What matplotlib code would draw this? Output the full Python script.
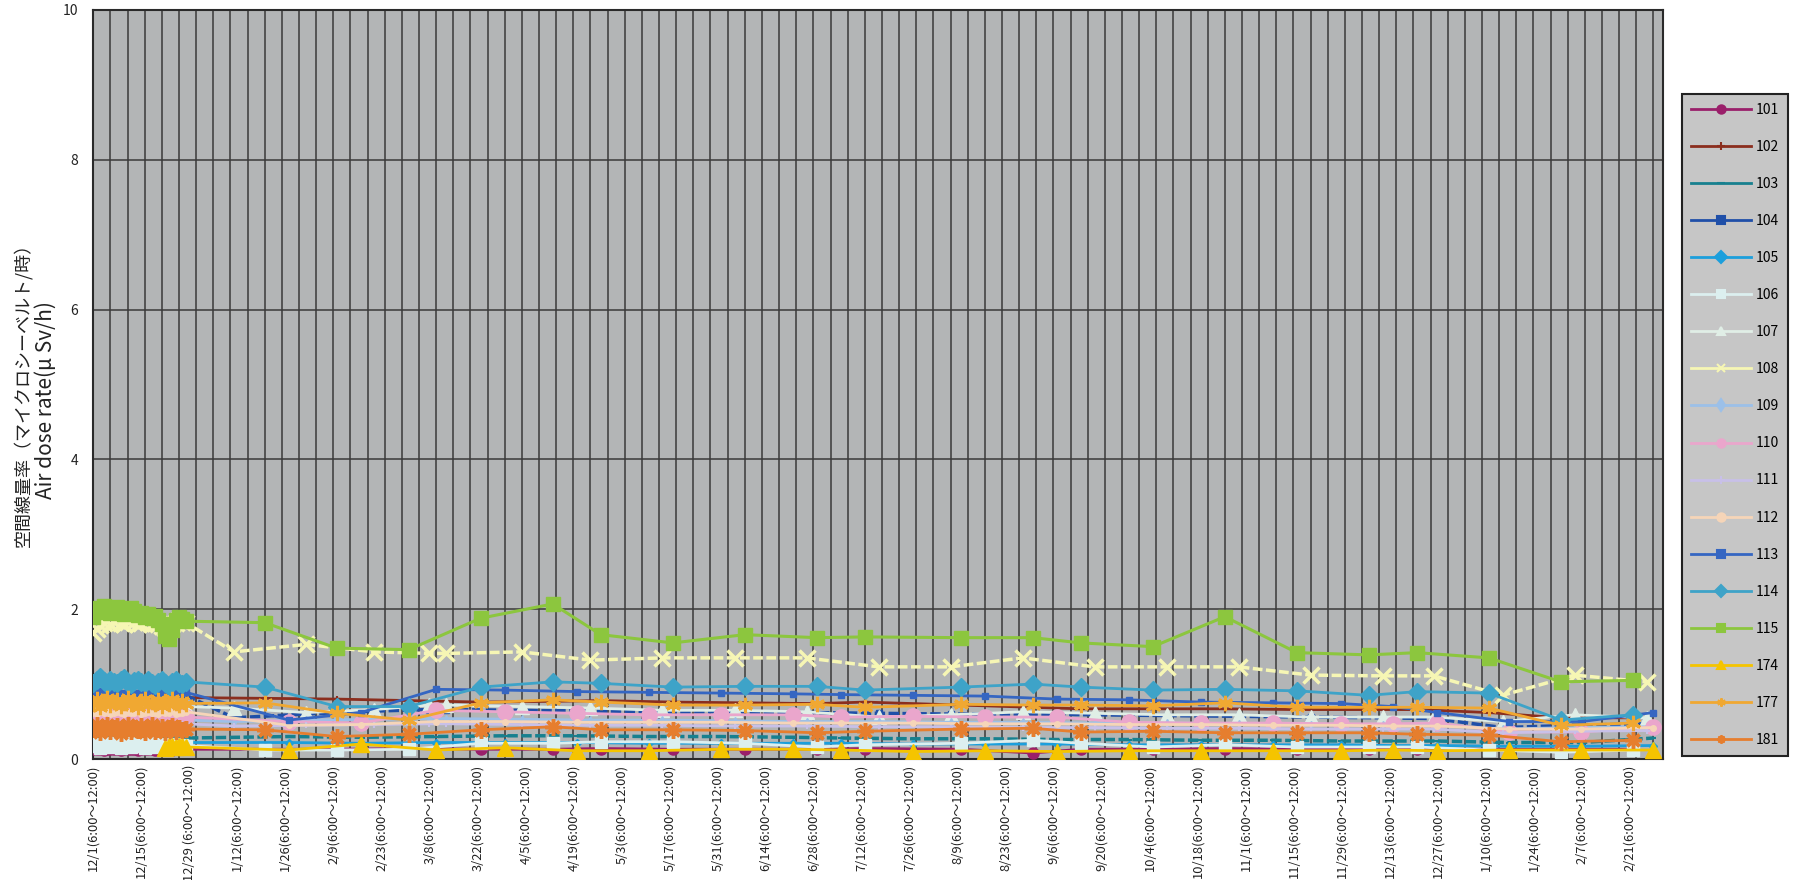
import numpy as np
import matplotlib
matplotlib.use("Agg")
import matplotlib.pyplot as plt
from matplotlib.lines import Line2D

plt.rcParams['font.family'] = ['Noto Sans CJK JP', 'DejaVu Sans']

# x values are days counted from 12/1 (2011)
tick_days = np.arange(0, 449, 14)
tick_dates = ["12/1", "12/15", "12/29 ", "1/12", "1/26", "2/9", "2/23", "3/8", "3/22",
              "4/5", "4/19", "5/3", "5/17", "5/31", "6/14", "6/28", "7/12", "7/26",
              "8/9", "8/23", "9/6", "9/20", "10/4", "10/18", "11/1", "11/15", "11/29",
              "12/13", "12/27", "1/10", "1/24", "2/7", "2/21"]

# daily readings in December
dense_days = list(range(28))
late_dense_days = list(range(21, 28))

# later readings, three survey rounds
days_a = [50, 71, 92, 113, 134, 148, 169, 190, 211, 225, 253, 274, 288, 309, 330, 351, 372, 386, 407, 428, 449]
days_b = [41, 62, 82, 98, 103, 125, 145, 166, 187, 208, 229, 250, 271, 292, 313, 334, 355, 376, 391, 411, 432, 453]
days_c = [57, 78, 100, 120, 141, 162, 183, 204, 218, 239, 260, 281, 302, 323, 344, 364, 379, 392, 413, 434, 455]

d101 = [0.13, 0.14, 0.13, 0.12, 0.13, 0.14, 0.13, 0.13, 0.12, 0.13, 0.14, 0.13, 0.13, 0.12, 0.13, 0.14, 0.13, 0.13, 0.12, 0.13, 0.14, 0.13, 0.13, 0.12, 0.13, 0.14, 0.13, 0.13]
d102 = [0.82, 0.83, 0.81, 0.82, 0.83, 0.82, 0.81, 0.82, 0.83, 0.82, 0.81, 0.82, 0.82, 0.83, 0.81, 0.82, 0.83, 0.82, 0.81, 0.82, 0.82, 0.83, 0.81, 0.82, 0.82, 0.81, 0.82, 0.82]
d103 = [0.28, 0.29, 0.27, 0.28, 0.29, 0.28, 0.27, 0.28, 0.29, 0.28, 0.27, 0.28, 0.28, 0.29, 0.27, 0.28, 0.29, 0.28, 0.27, 0.28, 0.28, 0.29, 0.27, 0.28, 0.28, 0.27, 0.28, 0.28]
d104 = [0.84, 0.85, 0.83, 0.86, 0.84, 0.85, 0.86, 0.84, 0.83, 0.85, 0.86, 0.84, 0.85, 0.83, 0.84, 0.86, 0.85, 0.84, 0.83, 0.85, 0.84, 0.86, 0.85, 0.84, 0.83, 0.85, 0.84, 0.85]
d105 = [0.22, 0.23, 0.21, 0.22, 0.23, 0.22, 0.21, 0.22, 0.23, 0.22, 0.21, 0.22, 0.22, 0.23, 0.21, 0.22, 0.23, 0.22, 0.21, 0.22, 0.22, 0.23, 0.21, 0.22, 0.22, 0.21, 0.22, 0.22]
d106 = [0.17, 0.20, 0.15, 0.19, 0.21, 0.16, 0.18, 0.20, 0.15, 0.18, 0.21, 0.16, 0.19, 0.17, 0.20, 0.15, 0.18, 0.21, 0.16, 0.19, 0.17, 0.20, 0.15, 0.18, 0.20, 0.16, 0.19, 0.18]
d107 = [0.70, 0.71, 0.69, 0.70, 0.72, 0.70, 0.69, 0.71, 0.70, 0.72, 0.70, 0.69, 0.71, 0.70, 0.70, 0.72, 0.69, 0.70, 0.71, 0.70, 0.69, 0.71, 0.70, 0.72, 0.70, 0.69, 0.71, 0.70]
d108 = [1.68, 1.74, 1.79, 1.82, 1.84, 1.80, 1.83, 1.85, 1.82, 1.80, 1.84, 1.86, 1.83, 1.80, 1.82, 1.85, 1.83, 1.80, 1.82, 1.80, 1.78, 1.75, 1.78, 1.80, 1.82, 1.85, 1.83, 1.82]
d109 = [0.52, 0.53, 0.51, 0.52, 0.54, 0.52, 0.51, 0.53, 0.52, 0.52, 0.54, 0.51, 0.52, 0.53, 0.52, 0.51, 0.53, 0.52, 0.52, 0.54, 0.51, 0.52, 0.53, 0.52, 0.51, 0.53, 0.52, 0.52]
d110 = [0.56, 0.58, 0.55, 0.57, 0.59, 0.56, 0.55, 0.58, 0.57, 0.56, 0.59, 0.55, 0.57, 0.58, 0.56, 0.55, 0.58, 0.57, 0.56, 0.59, 0.55, 0.57, 0.58, 0.56, 0.55, 0.57, 0.58, 0.56]
d111 = [0.47, 0.48, 0.46, 0.47, 0.49, 0.47, 0.46, 0.48, 0.47, 0.47, 0.49, 0.46, 0.47, 0.48, 0.47, 0.46, 0.48, 0.47, 0.47, 0.49, 0.46, 0.47, 0.48, 0.47, 0.46, 0.48, 0.47, 0.47]
d112 = [0.62, 0.60, 0.63, 0.61, 0.64, 0.60, 0.62, 0.63, 0.61, 0.60, 0.63, 0.62, 0.61, 0.64, 0.60, 0.62, 0.63, 0.61, 0.62, 0.60, 0.63, 0.61, 0.62, 0.64, 0.60, 0.62, 0.61, 0.63]
d113 = [0.86, 0.89, 0.91, 0.88, 0.90, 0.87, 0.89, 0.91, 0.86, 0.88, 0.90, 0.89, 0.87, 0.88, 0.91, 0.88, 0.86, 0.89, 0.90, 0.87, 0.88, 0.90, 0.86, 0.88, 0.89, 0.87, 0.88, 0.89]
d114 = [1.02, 1.06, 1.09, 1.04, 1.00, 1.06, 1.03, 1.01, 1.05, 1.08, 1.02, 1.00, 1.04, 1.06, 1.03, 1.01, 1.05, 1.02, 0.99, 1.03, 1.06, 1.02, 0.98, 1.03, 1.05, 1.02, 1.00, 1.03]
d115 = [1.90, 1.96, 2.02, 2.04, 1.98, 1.95, 2.00, 2.03, 1.97, 1.93, 1.96, 2.01, 1.98, 1.92, 1.95, 1.90, 1.93, 1.88, 1.91, 1.86, 1.80, 1.64, 1.60, 1.72, 1.85, 1.90, 1.87, 1.84]
d174 = [0.15, 0.17, 0.18, 0.16, 0.17, 0.18, 0.16]
d177 = [0.74, 0.80, 0.70, 0.77, 0.82, 0.72, 0.76, 0.79, 0.71, 0.75, 0.81, 0.73, 0.77, 0.70, 0.78, 0.80, 0.72, 0.76, 0.74, 0.79, 0.71, 0.77, 0.73, 0.80, 0.75, 0.72, 0.78, 0.74]
d181 = [0.40, 0.45, 0.36, 0.42, 0.46, 0.38, 0.41, 0.44, 0.35, 0.40, 0.45, 0.37, 0.42, 0.39, 0.44, 0.36, 0.41, 0.45, 0.38, 0.40, 0.43, 0.36, 0.42, 0.44, 0.38, 0.41, 0.39, 0.40]

v101 = [0.13, 0.13, 0.14, 0.13, 0.13, 0.14, 0.13, 0.13, 0.13, 0.14, 0.13, 0.08, 0.13, 0.13, 0.14, 0.13, 0.13, 0.13, 0.13, 0.13, 0.13]
v102 = [0.81, 0.80, 0.78, 0.76, 0.77, 0.78, 0.76, 0.75, 0.74, 0.76, 0.72, 0.69, 0.67, 0.67, 0.67, 0.66, 0.66, 0.66, 0.62, 0.55, 0.55]
v103 = [0.30, 0.29, 0.30, 0.31, 0.31, 0.30, 0.30, 0.29, 0.28, 0.27, 0.27, 0.26, 0.26, 0.25, 0.25, 0.24, 0.24, 0.24, 0.22, 0.22, 0.28]
v104 = [0.55, 0.60, 0.64, 0.66, 0.66, 0.65, 0.64, 0.63, 0.63, 0.62, 0.61, 0.60, 0.60, 0.59, 0.58, 0.57, 0.56, 0.55, 0.54, 0.42, 0.45, 0.47]
v105 = [0.22, 0.21, 0.22, 0.22, 0.22, 0.21, 0.21, 0.21, 0.21, 0.20, 0.20, 0.20, 0.19, 0.19, 0.19, 0.19, 0.18, 0.18, 0.17, 0.17, 0.18]
v106 = [0.12, 0.12, 0.13, 0.21, 0.21, 0.23, 0.23, 0.21, 0.16, 0.19, 0.21, 0.25, 0.21, 0.16, 0.19, 0.16, 0.16, 0.16, 0.12, 0.09, 0.12]
v107 = [0.68, 0.62, 0.66, 0.72, 0.72, 0.70, 0.68, 0.65, 0.65, 0.63, 0.56, 0.59, 0.63, 0.61, 0.59, 0.59, 0.56, 0.56, 0.56, 0.50, 0.59, 0.55]
v108 = [1.43, 1.53, 1.43, 1.41, 1.41, 1.43, 1.32, 1.35, 1.35, 1.35, 1.23, 1.23, 1.35, 1.23, 1.23, 1.23, 1.12, 1.11, 1.11, 0.85, 1.12, 1.03]
v109 = [0.50, 0.52, 0.53, 0.54, 0.54, 0.53, 0.52, 0.52, 0.51, 0.50, 0.50, 0.49, 0.49, 0.48, 0.48, 0.47, 0.46, 0.46, 0.45, 0.40, 0.42, 0.43]
v110 = [0.50, 0.48, 0.65, 0.63, 0.61, 0.59, 0.59, 0.59, 0.56, 0.57, 0.56, 0.56, 0.49, 0.48, 0.48, 0.47, 0.47, 0.48, 0.36, 0.36, 0.43]
v111 = [0.44, 0.45, 0.46, 0.47, 0.47, 0.46, 0.45, 0.45, 0.44, 0.44, 0.43, 0.43, 0.42, 0.42, 0.41, 0.41, 0.40, 0.40, 0.40, 0.35, 0.37, 0.38]
v112 = [0.45, 0.46, 0.50, 0.50, 0.49, 0.49, 0.49, 0.48, 0.48, 0.48, 0.47, 0.47, 0.46, 0.46, 0.45, 0.45, 0.44, 0.44, 0.40, 0.40, 0.42]
v113 = [0.52, 0.62, 0.93, 0.92, 0.90, 0.89, 0.88, 0.87, 0.86, 0.85, 0.84, 0.80, 0.79, 0.76, 0.75, 0.74, 0.70, 0.62, 0.50, 0.50, 0.62]
v114 = [0.96, 0.70, 0.70, 0.96, 1.03, 1.01, 0.96, 0.97, 0.97, 0.92, 0.96, 1.00, 0.96, 0.92, 0.93, 0.91, 0.85, 0.90, 0.88, 0.52, 0.59]
v115 = [1.82, 1.48, 1.46, 1.88, 2.07, 1.66, 1.55, 1.66, 1.62, 1.63, 1.62, 1.62, 1.55, 1.50, 1.90, 1.42, 1.39, 1.42, 1.35, 1.03, 1.05]
v174 = [0.12, 0.20, 0.12, 0.15, 0.11, 0.11, 0.13, 0.13, 0.12, 0.10, 0.11, 0.10, 0.11, 0.11, 0.11, 0.11, 0.12, 0.11, 0.12, 0.12, 0.12]
v177 = [0.75, 0.61, 0.52, 0.75, 0.79, 0.76, 0.72, 0.72, 0.73, 0.69, 0.73, 0.72, 0.72, 0.71, 0.75, 0.69, 0.69, 0.69, 0.68, 0.45, 0.48]
v181 = [0.39, 0.30, 0.33, 0.39, 0.43, 0.39, 0.39, 0.38, 0.35, 0.37, 0.40, 0.41, 0.36, 0.37, 0.35, 0.35, 0.35, 0.33, 0.32, 0.23, 0.25]

stations = ["101", "102", "103", "104", "105", "106", "107", "108", "109",
            "110", "111", "112", "113", "114", "115", "174", "177", "181"]

series = [
    (dense_days, d101, days_a, v101), (dense_days, d102, days_a, v102),
    (dense_days, d103, days_c, v103), (dense_days, d104, days_b, v104),
    (dense_days, d105, days_c, v105), (dense_days, d106, days_a, v106),
    (dense_days, d107, days_b, v107), (dense_days, d108, days_b, v108),
    (dense_days, d109, days_b, v109), (dense_days, d110, days_c, v110),
    (dense_days, d111, days_b, v111), (dense_days, d112, days_c, v112),
    (dense_days, d113, days_c, v113), (dense_days, d114, days_a, v114),
    (dense_days, d115, days_a, v115), (late_dense_days, d174, days_c, v174),
    (dense_days, d177, days_a, v177), (dense_days, d181, days_a, v181),
]

# styles
colors = ['#9a1f6a', '#8b2e1e', '#17808f', '#1f4fa8', '#1c9fdc', '#dcefef',
          '#e0eee6', '#f6f6b4', '#9cc0e8', '#eaa6cc', '#c8c0e8', '#f6d5b8',
          '#3566c2', '#3ea3c8', '#8cc63e', '#f5c400', '#f0a832', '#e67e2e']
markers = ['o', '+', '_', 's', 'D', 's', '^', 'x', 'd', 'o', '+', 'o',
           's', 'D', 's', '^', (6, 2, 0), (8, 2, 0)]
msizes = [8, 5, 5, 4, 4, 9, 10, 11, 4, 11, 5, 4, 4, 9, 10, 11, 11, 12]
mews = [1, 1.5, 1.5, 1, 1, 1, 1, 2.5, 1, 1, 1.5, 1, 1, 1, 1, 1, 2.2, 2.5]
dashes = [None, None, (0, (3, 1)), (0, (3, 1)), None, None, None, (0, (2.8, 1)),
          None, None, None, None, None, None, None, None, None, None]
lws = [2, 2, 2.5, 2.5, 2, 2, 2, 2.5, 2, 2, 2, 2, 2, 2, 2.2, 2, 2, 2]

fig = plt.figure(figsize=(17.93, 8.8), dpi=100)
ax = fig.add_axes([93.3 / 1793, 1 - 759 / 880, (1662.7 - 93.3) / 1793, 749 / 880])
ax.set_facecolor('#b3b5b6')

for i, (dx, dy, sx, sy) in enumerate(series):
    ax.plot(list(dx) + list(sx), list(dy) + list(sy), color=colors[i],
            lw=lws[i], ls=dashes[i] if dashes[i] else '-',
            marker=markers[i], ms=msizes[i], mew=mews[i],
            mec=colors[i], mfc=colors[i], zorder=3 + i)

ax.set_xlim(0, 457.7)
ax.set_ylim(0, 10)
ax.xaxis.remove_overlapping_locs = False
ax.set_xticks(tick_days)
ax.set_xticklabels([d + "(6:00～12:00)" for d in tick_dates], rotation=90,
                   fontsize=9.3, color='#222222')
ax.set_xticks(np.arange(0, 458, 5), minor=True)
ax.tick_params(axis='x', which='both', length=0, pad=4)
ax.set_yticks([0, 2, 4, 6, 8, 10])
ax.tick_params(axis='y', length=0, pad=11, labelsize=10, labelcolor='#222222')
ax.grid(axis='x', which='minor', color='#3a3a3a', lw=1.1)
ax.grid(axis='y', which='major', color='#3a3a3a', lw=1.1)
ax.set_axisbelow(True)
for sp in ax.spines.values():
    sp.set_color('#2a2a2a')
    sp.set_linewidth(1.5)

fig.text(23 / 1793, 1 - 390 / 880, "空間線量率（マイクロシーベルト/時）", rotation=90,
         ha='center', va='center', fontsize=13, color='#222222')
fig.text(46 / 1793, 1 - 400 / 880, "Air dose rate(μ Sv/h)", rotation=90,
         ha='center', va='center', fontsize=15, color='#222222')

handles = [Line2D([], [], color=colors[i], lw=2, marker=markers[i],
                  ms=6, mew=1.5, mec=colors[i], mfc=colors[i])
           for i in range(len(stations))]
leg = fig.legend(handles, stations, loc='upper left',
                 bbox_to_anchor=(1682 / 1793, 1 - 94 / 880),
                 bbox_transform=fig.transFigure, fontsize=10, labelspacing=1.66,
                 borderpad=0.64, borderaxespad=0, handlelength=4.3,
                 handletextpad=0.4, fancybox=False, edgecolor='#222222',
                 facecolor='#c6c6c6', framealpha=1)
leg.get_frame().set_linewidth(1.5)

fig.savefig("out.png", dpi=100)
